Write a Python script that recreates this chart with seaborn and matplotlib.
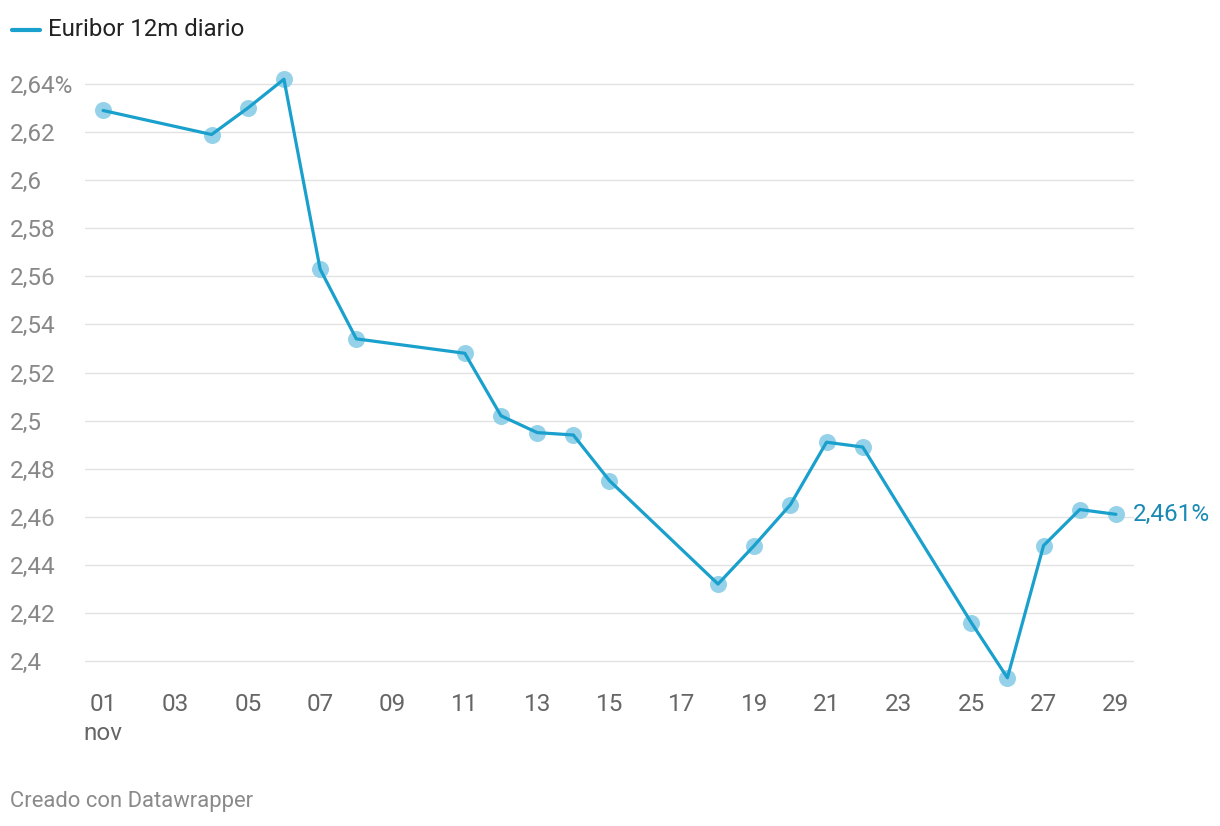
import matplotlib
matplotlib.use('Agg')
import matplotlib.pyplot as plt
import seaborn as sns
import pandas as pd

# Data
days = [1, 4, 5, 6, 7, 8, 11, 12, 13, 14, 15, 18, 19, 20, 21, 22, 25, 26, 27, 28, 29]
euribor = [2.629, 2.619, 2.630, 2.642, 2.563, 2.534, 2.528, 2.502, 2.495, 2.494, 2.475,
           2.432, 2.448, 2.465, 2.491, 2.489, 2.416, 2.393, 2.448, 2.463, 2.461]
x_ticks = [1, 3, 5, 7, 9, 11, 13, 15, 17, 19, 21, 23, 25, 27, 29]
x_tick_labels = ['01\nnov', '03', '05', '07', '09', '11', '13', '15', '17', '19', '21', '23', '25', '27', '29']
y_ticks = [2.40, 2.42, 2.44, 2.46, 2.48, 2.50, 2.52, 2.54, 2.56, 2.58, 2.60, 2.62, 2.64]
y_tick_labels = ['2,4', '2,42', '2,44', '2,46', '2,48', '2,5', '2,52', '2,54', '2,56', '2,58', '2,6', '2,62', '2,64%']
series_name = 'Euribor 12m diario'
last_label = '2,461%'

df = pd.DataFrame({'day': days, 'value': euribor})

sns.set_theme(style='white')
plt.rcParams['font.family'] = ['Roboto', 'DejaVu Sans']

LINE = '#1aa0cc'
DOT = '#8fd0e8'
GRID = '#e2e2e2'
TICK = '#888888'

W, H = 1220, 826
fig = plt.figure(figsize=(W / 100, H / 100), dpi=100)
ax_left, ax_right = 85 / W, 1134 / W
ax_top, ax_bottom = 1 - 60 / H, 1 - 685 / H
ax = fig.add_axes([ax_left, ax_bottom, ax_right - ax_left, ax_top - ax_bottom])

sns.scatterplot(data=df, x='day', y='value', ax=ax, color=DOT, s=150, linewidth=0,
                alpha=0.95, zorder=3, clip_on=False, legend=False)
sns.lineplot(data=df, x='day', y='value', ax=ax, color=LINE, linewidth=2.3,
             zorder=4, clip_on=False, legend=False)

ax.set_xlim(0.5, 29.5)
ax.set_ylim(2.39, 2.65)
ax.set_xlabel('')
ax.set_ylabel('')

ax.set_yticks(y_ticks)
ax.set_yticklabels(y_tick_labels, color=TICK, fontsize=17.5, ha='left')
ax.tick_params(axis='y', length=0, pad=(85 - 10) * 0.72)
ax.set_xticks(x_ticks)
ax.set_xticklabels(x_tick_labels, color='#666666', fontsize=17.5, linespacing=1.3, va='top')
ax.tick_params(axis='x', length=0, pad=6)

ax.grid(axis='y', color=GRID, linewidth=1)
ax.grid(axis='x', visible=False)
ax.set_axisbelow(True)
for s in ax.spines.values():
    s.set_visible(False)

# last value label
ax.annotate(last_label, xy=(days[-1], euribor[-1]), xytext=(12, 0), textcoords='offset points',
            color='#1a8ab5', fontsize=17.5, va='center', ha='left', annotation_clip=False)

# legend
fig.add_artist(plt.Line2D([12 / W, 40 / W], [1 - 30 / H, 1 - 30 / H], color=LINE,
                          linewidth=3, solid_capstyle='round'))
fig.text(48 / W, 1 - 30 / H, series_name, fontsize=17.3, color='#222222', va='center', ha='left')

# footer
fig.text(10 / W, 1 - 802 / H, 'Creado con Datawrapper', fontsize=15.8, color='#8a8a8a',
         va='center', ha='left')

fig.savefig('out.png', dpi=100, facecolor='white')
